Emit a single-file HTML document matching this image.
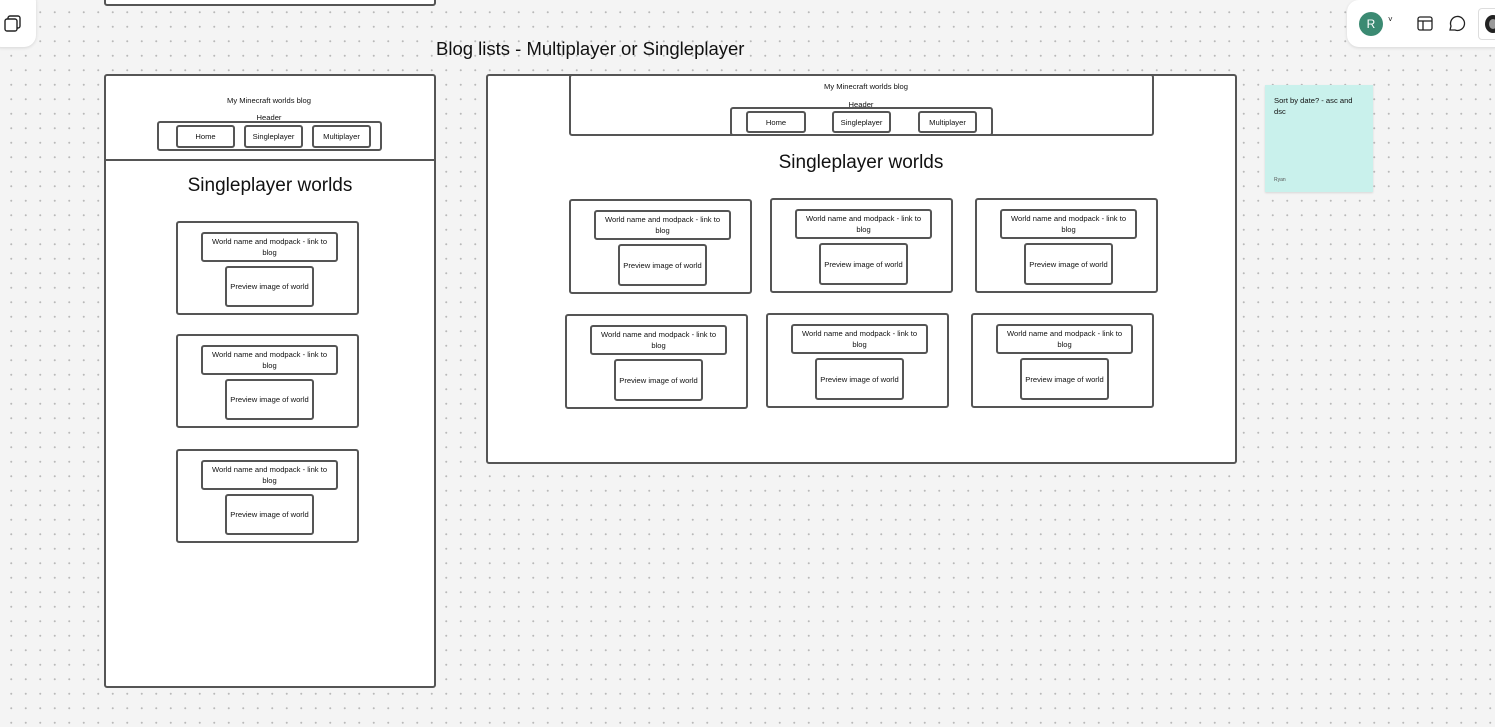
<!DOCTYPE html>
<html><head><meta charset="utf-8">
<style>
*{box-sizing:border-box;margin:0;padding:0}
body{width:1495px;height:727px;overflow:hidden;position:relative;background-color:#f4f4f4;
background-image:radial-gradient(circle,#b9b9b9 0.8px,transparent 1.2px);background-size:14.5px 14.5px;background-position:4px 5px;
font-family:"Liberation Sans",Arial,sans-serif;color:#111}
.a{position:absolute}
.b{position:absolute;border:2px solid #555;border-radius:3px;background:#fff}
.t{position:absolute;font-size:7.6px;text-align:center;line-height:11px;display:flex;align-items:center;justify-content:center;white-space:nowrap}
.h{position:absolute;font-size:19px;text-align:center;white-space:nowrap}
.sm{position:absolute;font-size:7.6px;white-space:nowrap;text-align:center}
</style></head><body>

<div class="a" style="left:-10px;top:-10px;width:46px;height:57px;background:#fff;border-radius:12px;box-shadow:0 1px 3px rgba(0,0,0,.12)"></div>
<svg class="a" style="left:3px;top:14px" width="20" height="20" viewBox="0 0 20 20"><rect x="5" y="2" width="12" height="12" rx="2" fill="none" stroke="#222" stroke-width="1.4"/><rect x="2" y="5" width="12" height="12" rx="2" fill="#fff" stroke="#222" stroke-width="1.4"/></svg>

<div class="b" style="left:104px;top:-10px;width:332px;height:16px"></div>

<div class="a" style="left:1347px;top:0;width:160px;height:47px;background:#fff;border-radius:12px;box-shadow:0 1px 3px rgba(0,0,0,.12)"></div>
<div class="a" style="left:1359px;top:12px;width:24px;height:24px;border-radius:50%;background:#3b8a72;color:#fff;font-size:12px;line-height:24px;text-align:center">R</div>
<div class="a" style="left:1388px;top:15px;font-size:8px">&#709;</div>
<svg class="a" style="left:1416px;top:15px" width="18" height="18"><rect x="2" y="2" width="14" height="13" rx="2" fill="none" stroke="#222" stroke-width="1.3"/><line x1="2" y1="6" x2="16" y2="6" stroke="#222" stroke-width="1.3"/><line x1="7" y1="6" x2="7" y2="15" stroke="#222" stroke-width="1.3"/></svg>
<svg class="a" style="left:1447px;top:14px" width="20" height="20"><path d="M3 16 L4 12 A7 7 0 1 1 8 16 Z" fill="none" stroke="#222" stroke-width="1.3"/></svg>
<div class="a" style="left:1478px;top:8px;width:30px;height:32px;border:1px solid #ddd;border-radius:4px;background:#fff"></div>
<div class="a" style="left:1485px;top:15px;width:16px;height:18px;border-radius:50%;background:#222"></div>
<div class="a" style="left:1489px;top:19px;width:8px;height:10px;border-radius:50%;background:#999"></div>

<div class="a" style="left:436px;top:38px;font-size:18.5px;white-space:nowrap">Blog lists - Multiplayer or Singleplayer</div>

<!-- LEFT FRAME -->
<div class="b" style="left:104px;top:74px;width:332px;height:614px"></div>
<div class="a" style="left:105px;top:159px;width:330px;height:2px;background:#555"></div>
<div class="sm" style="left:169px;top:96px;width:200px">My Minecraft worlds blog</div>
<div class="sm" style="left:169px;top:113px;width:200px">Header</div>
<div class="b" style="left:157px;top:121px;width:225px;height:30px;background:transparent"></div>
<div class="b t" style="left:176px;top:125px;width:59px;height:23px">Home</div>
<div class="b t" style="left:244px;top:125px;width:59px;height:23px">Singleplayer</div>
<div class="b t" style="left:312px;top:125px;width:59px;height:23px">Multiplayer</div>
<div class="h" style="left:104px;top:175px;width:332px">Singleplayer worlds</div>

<div class="b" style="left:176px;top:221px;width:183px;height:94px"></div>
<div class="b t" style="left:201px;top:232px;width:137px;height:30px">World name and modpack - link to<br>blog</div>
<div class="b t" style="left:225px;top:266px;width:89px;height:41px">Preview image of world</div>

<div class="b" style="left:176px;top:334px;width:183px;height:94px"></div>
<div class="b t" style="left:201px;top:345px;width:137px;height:30px">World name and modpack - link to<br>blog</div>
<div class="b t" style="left:225px;top:379px;width:89px;height:41px">Preview image of world</div>

<div class="b" style="left:176px;top:449px;width:183px;height:94px"></div>
<div class="b t" style="left:201px;top:460px;width:137px;height:30px">World name and modpack - link to<br>blog</div>
<div class="b t" style="left:225px;top:494px;width:89px;height:41px">Preview image of world</div>

<!-- RIGHT FRAME -->
<div class="b" style="left:486px;top:74px;width:751px;height:390px"></div>
<div class="b" style="left:569px;top:74px;width:585px;height:62px"></div>
<div class="sm" style="left:766px;top:82px;width:200px">My Minecraft worlds blog</div>
<div class="sm" style="left:761px;top:100px;width:200px">Header</div>
<div class="b" style="left:730px;top:107px;width:263px;height:29px"></div>
<div class="b t" style="left:746px;top:111px;width:60px;height:22px">Home</div>
<div class="b t" style="left:832px;top:111px;width:59px;height:22px">Singleplayer</div>
<div class="b t" style="left:918px;top:111px;width:59px;height:22px">Multiplayer</div>
<div class="h" style="left:711px;top:152px;width:300px">Singleplayer worlds</div>

<div class="b" style="left:569px;top:199px;width:183px;height:95px"></div>
<div class="b t" style="left:594px;top:210px;width:137px;height:30px">World name and modpack - link to<br>blog</div>
<div class="b t" style="left:618px;top:244px;width:89px;height:42px">Preview image of world</div>

<div class="b" style="left:770px;top:198px;width:183px;height:95px"></div>
<div class="b t" style="left:795px;top:209px;width:137px;height:30px">World name and modpack - link to<br>blog</div>
<div class="b t" style="left:819px;top:243px;width:89px;height:42px">Preview image of world</div>

<div class="b" style="left:975px;top:198px;width:183px;height:95px"></div>
<div class="b t" style="left:1000px;top:209px;width:137px;height:30px">World name and modpack - link to<br>blog</div>
<div class="b t" style="left:1024px;top:243px;width:89px;height:42px">Preview image of world</div>

<div class="b" style="left:565px;top:314px;width:183px;height:95px"></div>
<div class="b t" style="left:590px;top:325px;width:137px;height:30px">World name and modpack - link to<br>blog</div>
<div class="b t" style="left:614px;top:359px;width:89px;height:42px">Preview image of world</div>

<div class="b" style="left:766px;top:313px;width:183px;height:95px"></div>
<div class="b t" style="left:791px;top:324px;width:137px;height:30px">World name and modpack - link to<br>blog</div>
<div class="b t" style="left:815px;top:358px;width:89px;height:42px">Preview image of world</div>

<div class="b" style="left:971px;top:313px;width:183px;height:95px"></div>
<div class="b t" style="left:996px;top:324px;width:137px;height:30px">World name and modpack - link to<br>blog</div>
<div class="b t" style="left:1020px;top:358px;width:89px;height:42px">Preview image of world</div>

<!-- sticky -->
<div class="a" style="left:1265px;top:85px;width:108px;height:107px;background:#c9f1ec;box-shadow:0 1px 2px rgba(0,0,0,.12)"></div>
<div class="a" style="left:1274px;top:95px;width:88px;font-size:7.6px;line-height:11px">Sort by date? - asc and<br>dsc</div>
<div class="a" style="left:1274px;top:177px;font-size:5px;color:#555">Ryan</div>
</body></html>
